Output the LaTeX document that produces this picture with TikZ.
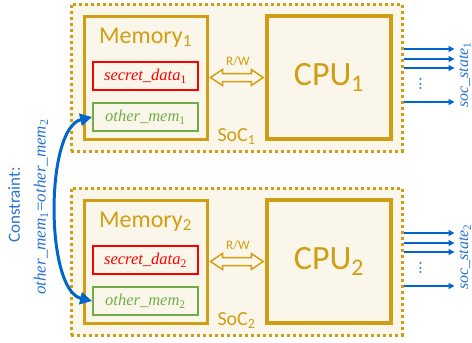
\documentclass[tikz,border=0pt]{standalone}
\usepackage{fontspec}
\setmainfont{Carlito}
\newfontfamily\serifit{Liberation Serif}
\usetikzlibrary{arrows.meta,calc}
\definecolor{gold}{RGB}{208,158,20}
\definecolor{beige}{RGB}{251,246,234}
\definecolor{redbox}{RGB}{255,0,0}
\definecolor{greenbox}{RGB}{112,173,71}
\definecolor{bluearr}{RGB}{0,102,204}
\definecolor{bluetxt}{RGB}{40,115,210}
\newcommand\fs[1]{\fontsize{#1}{#1}\selectfont}
\tikzset{
  socbox/.style={draw=gold, line width=3pt, dash pattern=on 3pt off 3pt, fill=beige, inner sep=0pt, minimum width=331pt, minimum height=147pt},
  membox/.style={draw=gold, line width=3pt, fill=beige, inner sep=0pt, minimum width=123pt, minimum height=123pt},
  cpubox/.style={draw=gold, line width=3.5pt, fill=beige, inner sep=0pt, minimum width=124pt, minimum height=123pt, text=gold, font=\fs{34}},
  secbox/.style={draw=redbox, line width=1.8pt, fill=beige, inner sep=0pt, minimum width=105pt, minimum height=28pt, text=redbox, font=\serifit\itshape\fs{16.5}},
  othbox/.style={draw=greenbox, line width=1.8pt, fill=beige, inner sep=0pt, minimum width=105pt, minimum height=28pt, text=greenbox, font=\serifit\itshape\fs{16.5}},
  goldlbl/.style={text=gold, inner sep=0pt},
  rwarrow/.style={draw=gold, line width=1.5pt, fill=beige, line join=miter},
  outarrow/.style={draw=bluearr, line width=1.3pt, -{Triangle[length=6pt,width=6pt]}},
  bluelbl/.style={text=bluetxt, inner sep=0pt},
  constr/.style={draw=bluearr, line width=3pt, {Triangle[length=12pt,width=12pt]}-{Triangle[length=12pt,width=12pt]}}
}
\begin{document}
\begin{tikzpicture}[x=1pt,y=-1pt]
\useasboundingbox (0,0) rectangle (472,343);
% ---------- SoC 1 ----------
\node[socbox] (soc1) at (236.5,77.5) {};
\node[membox] (mem1) at (145.5,77.5) {};
\node[cpubox] (cpu1) at (329,77.5) {CPU\textsubscript{1}};
\node[goldlbl, font=\fs{24}] (memlbl1) at ($(mem1.north)+(0,23)$) {Memory\textsubscript{1}};
\node[secbox] (sec1) at (145.5,76) {secret\_data\textsubscript{\upshape 1}};
\node[othbox] (oth1) at (145.5,117) {other\_mem\textsubscript{\upshape 1}};
\draw[rwarrow] ($(mem1.east)+(2,0)$) -- ++(12,-8) -- ++(0,4) -- ($(cpu1.west)+(-14,-4)$) -- ++(0,-4) -- ($(cpu1.west)+(-2,0)$) -- ++(-12,8) -- ++(0,-4) -- ($(mem1.east)+(14,4)$) -- ++(0,4) -- cycle;
\node[goldlbl, font=\fs{13}] (rw1) at ($(mem1.east)!0.5!(cpu1.west)+(1,-16)$) {R/W};
\node[goldlbl, font=\fs{20}] (soclbl1) at ($(soc1.south)+(0,-16)$) {SoC\textsubscript{1}};
\coordinate (a1o1) at ($(soc1.east)+(51,-28.5)$);
\coordinate (a1o2) at ($(soc1.east)+(51,-18.5)$);
\coordinate (a1o3) at ($(soc1.east)+(51,-9.5)$);
\coordinate (a1o4) at ($(soc1.east)+(51,24.5)$);
\foreach \c in {a1o1,a1o2,a1o3,a1o4} \draw[outarrow] (soc1.east |- \c) -- (\c);
\node[bluelbl, rotate=90, font=\fs{16}] (dots1) at ($(soc1.east)+(17,6.5)$) {...};
\node[bluelbl, rotate=90, font=\serifit\itshape\fs{16}] (st1) at (465,75) {soc\_state\textsubscript{\upshape 1}};
% ---------- SoC 2 ----------
\node[socbox] (soc2) at (236.5,261.5) {};
\node[membox] (mem2) at (145.5,261.5) {};
\node[cpubox] (cpu2) at (329,261.5) {CPU\textsubscript{2}};
\node[goldlbl, font=\fs{24}] (memlbl2) at ($(mem2.north)+(0,23)$) {Memory\textsubscript{2}};
\node[secbox] (sec2) at (145.5,260) {secret\_data\textsubscript{\upshape 2}};
\node[othbox] (oth2) at (145.5,301) {other\_mem\textsubscript{\upshape 2}};
\draw[rwarrow] ($(mem2.east)+(2,0)$) -- ++(12,-8) -- ++(0,4) -- ($(cpu2.west)+(-14,-4)$) -- ++(0,-4) -- ($(cpu2.west)+(-2,0)$) -- ++(-12,8) -- ++(0,-4) -- ($(mem2.east)+(14,4)$) -- ++(0,4) -- cycle;
\node[goldlbl, font=\fs{13}] (rw2) at ($(mem2.east)!0.5!(cpu2.west)+(1,-16)$) {R/W};
\node[goldlbl, font=\fs{20}] (soclbl2) at ($(soc2.south)+(0,-16)$) {SoC\textsubscript{2}};
\coordinate (a2o1) at ($(soc2.east)+(51,-28.5)$);
\coordinate (a2o2) at ($(soc2.east)+(51,-18.5)$);
\coordinate (a2o3) at ($(soc2.east)+(51,-9.5)$);
\coordinate (a2o4) at ($(soc2.east)+(51,24.5)$);
\foreach \c in {a2o1,a2o2,a2o3,a2o4} \draw[outarrow] (soc2.east |- \c) -- (\c);
\node[bluelbl, rotate=90, font=\fs{16}] (dots2) at ($(soc2.east)+(17,6.5)$) {...};
\node[bluelbl, rotate=90, font=\serifit\itshape\fs{16}] (st2) at (465,257) {soc\_state\textsubscript{\upshape 2}};
% ---------- constraint ----------
\node[bluelbl, rotate=90, font=\fs{17}] (cons) at (14,205) {Constraint:};
\node[bluelbl, rotate=90, font=\serifit\itshape\fs{17}] (consexpr) at (41,207) {other\_mem\textsubscript{\upshape 1}{\upshape =}other\_mem\textsubscript{\upshape 2}};
\draw[constr] (oth1.west) .. controls (45,128) and (45,290) .. (oth2.west);
\end{tikzpicture}
\end{document}
